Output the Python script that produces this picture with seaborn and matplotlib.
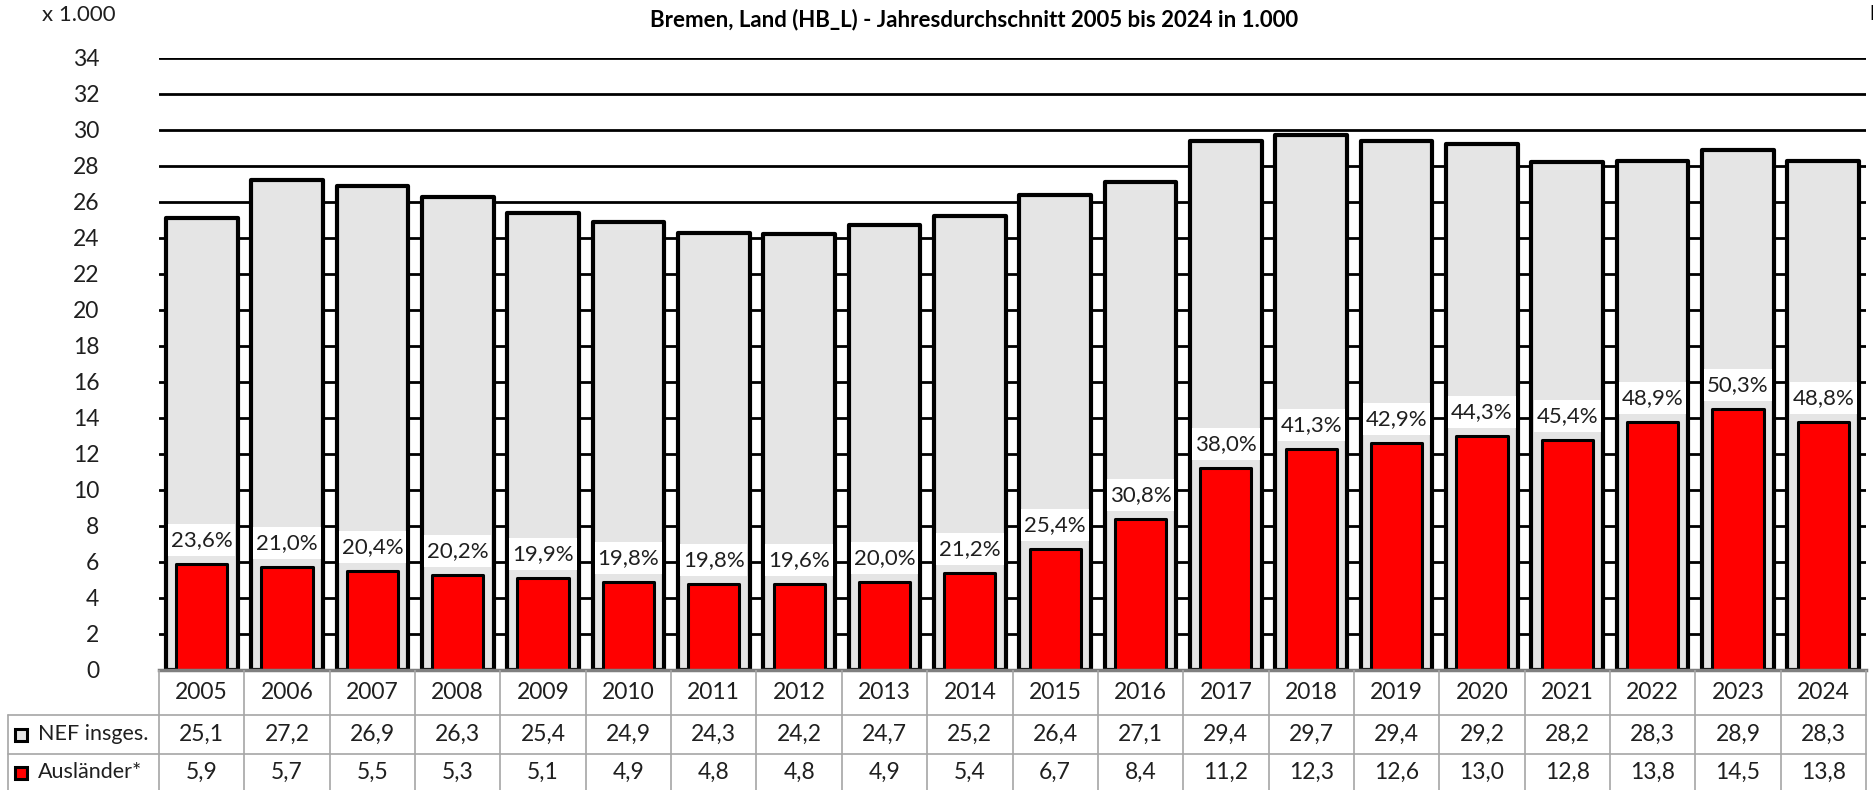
import numpy as np
import pandas as pd
import matplotlib
matplotlib.use("Agg")
import matplotlib.pyplot as plt
import seaborn as sns

# ---- data ----
years = ["2005", "2006", "2007", "2008", "2009", "2010", "2011", "2012", "2013", "2014",
         "2015", "2016", "2017", "2018", "2019", "2020", "2021", "2022", "2023", "2024"]
nef_total = [25.1, 27.2, 26.9, 26.3, 25.4, 24.9, 24.3, 24.2, 24.7, 25.2,
             26.4, 27.1, 29.4, 29.7, 29.4, 29.2, 28.2, 28.3, 28.9, 28.3]
auslaender = [5.9, 5.7, 5.5, 5.3, 5.1, 4.9, 4.8, 4.8, 4.9, 5.4,
              6.7, 8.4, 11.2, 12.3, 12.6, 13.0, 12.8, 13.8, 14.5, 13.8]
share_labels = ["23,6%", "21,0%", "20,4%", "20,2%", "19,9%", "19,8%", "19,8%", "19,6%", "20,0%", "21,2%",
                "25,4%", "30,8%", "38,0%", "41,3%", "42,9%", "44,3%", "45,4%", "48,9%", "50,3%", "48,8%"]
yticks = list(range(0, 35, 2))
row_names = ["NEF insges.", "Ausländer*"]
title = "Bremen, Land (HB_L) - Jahresdurchschnitt 2005 bis 2024 in 1.000"
unit_label = "x 1.000"

df = pd.DataFrame({"Jahr": years, "NEF": nef_total, "Auslaender": auslaender})

sns.set_theme(style="white")
FONT = ["Lato", "DejaVu Sans"]
plt.rcParams["font.family"] = FONT

W, H, DPI = 1874, 790, 100
fig = plt.figure(figsize=(W / DPI, H / DPI), dpi=DPI)
fig.patch.set_facecolor("white")

ax_left, ax_right, ax_top, ax_bottom = 159, 1866, 58, 670
ax = fig.add_axes([ax_left / W, (H - ax_bottom) / H, (ax_right - ax_left) / W, (ax_bottom - ax_top) / H])

GRAY = "#E5E5E5"
RED = "#FF0000"
TXT = "#1F1F1F"
FS = 16.5

sns.barplot(data=df, x="Jahr", y="NEF", color=GRAY, saturation=1, edgecolor="black",
            linewidth=3, width=0.84, ax=ax, zorder=3)
sns.barplot(data=df, x="Jahr", y="Auslaender", color=RED, saturation=1, edgecolor="black",
            linewidth=2.2, width=0.6, ax=ax, zorder=5)
for p in ax.patches:
    p.set_joinstyle("round")

ax.set_ylim(0, 34)
ax.set_xlim(-0.5, len(years) - 0.5)
ax.set_yticks(yticks)
ax.set_yticklabels([str(t) for t in yticks], fontsize=FS, color=TXT)
ax.tick_params(axis="y", length=0, pad=43)
ax.tick_params(axis="x", length=0, labelbottom=False)
ax.set_xlabel("")
ax.set_ylabel("")
for t in yticks[1:]:
    ax.axhline(t, color="black", lw=2, zorder=1)
for s in ["top", "right", "left"]:
    ax.spines[s].set_visible(False)
ax.spines["bottom"].set_color("#7F7F7F")
ax.spines["bottom"].set_linewidth(2.5)
ax.spines["bottom"].set_zorder(6)

# percentage labels with white background boxes
px_per_unit = (ax_bottom - ax_top) / 34.0
gap = 8 / px_per_unit
box_h = 32 / px_per_unit
box_w = 0.79
for i, (v, lab) in enumerate(zip(auslaender, share_labels)):
    ax.add_patch(plt.Rectangle((i - box_w / 2, v + gap), box_w, box_h, facecolor="white",
                               edgecolor="none", zorder=4))
    ax.text(i, v + gap + box_h / 2, lab, ha="center", va="center", fontsize=16, color=TXT, zorder=6)

# ---- data table ----
unit_px = (ax_right - ax_left) / len(years)
tax = fig.add_axes([0, 0, 1, (H - ax_bottom) / H])
tax.set_xlim(-0.5 - ax_left / unit_px, len(years) - 0.5 + (W - ax_right) / unit_px)
tax.set_ylim(H - ax_bottom, 0)
tax.axis("off")
LINE = "#A6A6A6"
left_x = -0.5 - (ax_left - 8) / unit_px
row_bounds = [0, 45, 84, 121]
for yb in row_bounds[1:3]:
    tax.plot([left_x, len(years) - 0.5], [yb, yb], color=LINE, lw=1.2)
for k in range(len(years) + 1):
    tax.plot([k - 0.5, k - 0.5], [0, 120], color=LINE, lw=1.2)
tax.plot([left_x, left_x], [45, 120], color=LINE, lw=1.2)

row_centers = [(row_bounds[j] + row_bounds[j + 1]) / 2 for j in range(3)]
for i, y in enumerate(years):
    tax.text(i, row_centers[0], y, ha="center", va="center", fontsize=FS, color=TXT)
    tax.text(i, row_centers[1], f"{nef_total[i]:.1f}".replace(".", ","), ha="center", va="center",
             fontsize=FS, color=TXT)
    tax.text(i, row_centers[2], f"{auslaender[i]:.1f}".replace(".", ","), ha="center", va="center",
             fontsize=FS, color=TXT)

mk_x = -0.5 - (ax_left - 21) / unit_px
txt_x = -0.5 - (ax_left - 38) / unit_px
for j, (name, col) in enumerate(zip(row_names, [GRAY, RED])):
    tax.plot([mk_x], [row_centers[j + 1]], marker="s", markersize=8.5, markerfacecolor=col,
             markeredgecolor="black", markeredgewidth=2.2, linestyle="none")
    tax.text(txt_x, row_centers[j + 1], name, ha="left", va="center", fontsize=15.5, color=TXT)

# ---- titles ----
fig.text(974 / W, 1 - 20 / H, title, ha="center", va="center", fontsize=16, fontweight="bold",
         color="black")
fig.text(42 / W, 1 - 15 / H, unit_label, ha="left", va="center", fontsize=16, color=TXT)
fig.text(1869 / W, 1 - 14 / H, "HB", ha="left", va="center", fontsize=15, fontweight="bold",
         color="black")

fig.savefig("out.png", dpi=DPI, facecolor="white")
